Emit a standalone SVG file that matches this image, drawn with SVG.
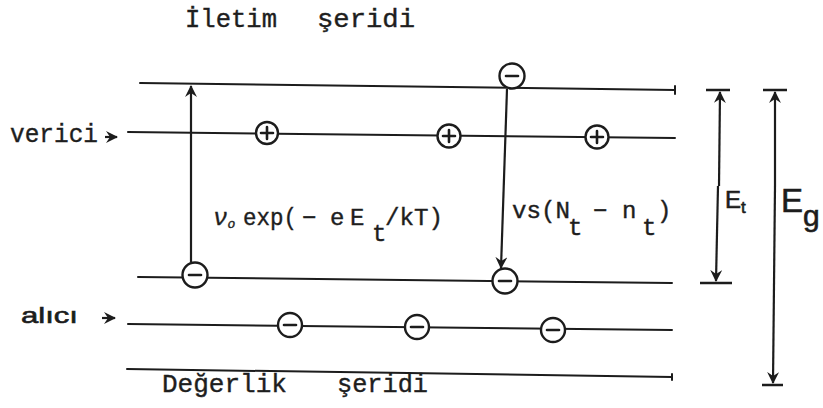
<svg xmlns="http://www.w3.org/2000/svg" width="823" height="408" viewBox="0 0 823 408">
<style>
.lvl{stroke:#1c1c1c;stroke-width:2;fill:none;stroke-linecap:round}
.ion{fill:#fff;stroke:#1c1c1c;stroke-width:2.4}
.sgn{stroke:#1c1c1c;stroke-width:2.6;stroke-linecap:round}
.arr{stroke:#1c1c1c;stroke-width:2.2;fill:none}
.bar{stroke:#1c1c1c;stroke-width:2.6}
.tw{font-family:"Liberation Mono","DejaVu Sans Mono",monospace;font-size:26px;fill:#1e1e1e;stroke:#1e1e1e;stroke-width:0.4}
.fm{font-family:"Liberation Mono","DejaVu Sans Mono",monospace;font-size:24px;fill:#1e1e1e;stroke:#1e1e1e;stroke-width:0.4}
.hw{font-family:"Liberation Sans","DejaVu Sans",sans-serif;fill:#1c1c1c;stroke:#1c1c1c;stroke-width:0.6}
</style>
<defs>
<marker id="ah" viewBox="0 0 12 12" refX="11" refY="6" markerWidth="12" markerHeight="12" markerUnits="userSpaceOnUse" orient="auto">
<path d="M0,0 L12,6 L0,12 L4,6 z" fill="#1c1c1c"/>
</marker>
</defs>

<!-- energy levels -->
<g id="levels">
<g id="conduction-band"><path class="lvl" d="M140,83 L675,90"/><path class="lvl" d="M675,86 L675,94"/></g>
<g id="donor-level"><path class="lvl" d="M128,132 L675,138"/></g>
<g id="trap-level"><path class="lvl" d="M138,277 L672,283"/></g>
<g id="acceptor-level"><path class="lvl" d="M128,324 L672,330"/></g>
<g id="valence-band"><path class="lvl" d="M127,369 L672,377"/><path class="lvl" d="M672,374 L672,380"/></g>
</g>

<!-- labels -->
<g id="labels">
<text class="tw" x="185" y="27" textLength="92" lengthAdjust="spacingAndGlyphs">İletim</text>
<text class="tw" x="317" y="27" textLength="98" lengthAdjust="spacingAndGlyphs">şeridi</text>
<text class="tw" x="162" y="392" textLength="125" lengthAdjust="spacingAndGlyphs">Değerlik</text>
<text class="tw" x="337" y="392" textLength="91" lengthAdjust="spacingAndGlyphs">şeridi</text>
<text class="tw" x="10" y="142" textLength="88" lengthAdjust="spacingAndGlyphs">verici</text>
<text class="hw" x="21" y="323" font-size="22" textLength="57" lengthAdjust="spacingAndGlyphs">alıcı</text>
</g>

<!-- nodes: ions / electrons -->
<g id="nodes">
<g id="e-cb"><circle class="ion" cx="512" cy="76" r="12.5"/><path class="sgn" d="M506,76 H518"/></g>
<g id="donor1"><circle class="ion" cx="267" cy="133" r="11"/><path class="sgn" d="M261,133 H273 M267,127 V139"/></g>
<g id="donor2"><circle class="ion" cx="449" cy="136" r="11.5"/><path class="sgn" d="M443,136 H455 M449,130 V142"/></g>
<g id="donor3"><circle class="ion" cx="597" cy="137" r="11.5"/><path class="sgn" d="M591,137 H603 M597,131 V143"/></g>
<g id="trap1"><circle class="ion" cx="195" cy="275" r="12.5"/><path class="sgn" d="M189,275 H201"/></g>
<g id="trap2"><circle class="ion" cx="505" cy="281" r="12.5"/><path class="sgn" d="M499,281 H511"/></g>
<g id="acc1"><circle class="ion" cx="290" cy="325" r="12"/><path class="sgn" d="M284,325 H296"/></g>
<g id="acc2"><circle class="ion" cx="417" cy="327" r="12"/><path class="sgn" d="M411,327 H423"/></g>
<g id="acc3"><circle class="ion" cx="553" cy="330" r="12"/><path class="sgn" d="M547,330 H559"/></g>
</g>

<!-- connectors -->
<g id="connectors">
<path class="arr" d="M105,137 H117" marker-end="url(#ah)"/>
<path class="arr" d="M102,318 H115" marker-end="url(#ah)"/>
<path class="arr" d="M191,262 L191,86" marker-end="url(#ah)"/>
<path class="arr" d="M507,89 L501,268" marker-end="url(#ah)"/>
<path class="arr" d="M719,186 L720,92" marker-end="url(#ah)"/>
<path class="arr" d="M718,186 L716,281" marker-end="url(#ah)"/>
<path class="bar" d="M706,90 H730 M700,283 H732"/>
<path class="arr" d="M775,186 L775,92" marker-end="url(#ah)"/>
<path class="arr" d="M775,186 L773,383" marker-end="url(#ah)"/>
<path class="bar" d="M763,90 H787 M762,385 H783"/>
</g>

<!-- rate expressions and energy labels -->
<g id="expressions">
<text class="fm" x="213" y="225" font-family="Liberation Serif, serif" font-style="italic" font-size="26">ν<tspan font-size="13" dy="3">o</tspan></text>
<text class="fm" x="243" y="225" textLength="54" lengthAdjust="spacingAndGlyphs">exp(</text>
<text class="fm" x="302" y="225">−</text>
<text class="fm" x="330" y="225">e</text>
<text class="fm" x="350" y="225">E</text>
<text class="fm" x="372" y="241">t</text>
<text class="fm" x="385" y="225" textLength="58" lengthAdjust="spacingAndGlyphs">/kT)</text>
<text class="fm" x="512" y="218" textLength="58" lengthAdjust="spacingAndGlyphs">vs(N</text>
<text class="fm" x="568" y="235">t</text>
<text class="fm" x="593" y="218">−</text>
<text class="fm" x="622" y="218">n</text>
<text class="fm" x="642" y="235">t</text>
<text class="fm" x="657" y="218">)</text>
<text class="hw" x="725" y="208" font-size="24">E</text>
<text class="hw" x="741" y="213" font-size="17">t</text>
<text class="hw" x="781" y="212" font-size="33">E</text>
<text class="hw" x="803" y="226" font-size="30">g</text>
</g>
</svg>
